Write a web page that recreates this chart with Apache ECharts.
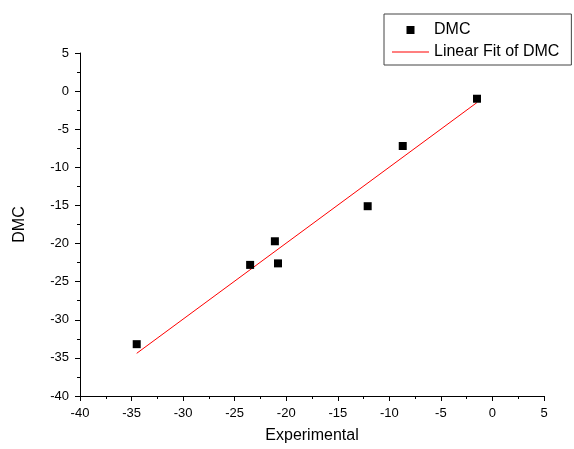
<!DOCTYPE html>
<html>
<head>
<meta charset="utf-8">
<script src="https://cdn.jsdelivr.net/npm/echarts@6/dist/echarts.min.js"></script>
<style>
html,body{margin:0;padding:0;background:#fff;}
#chart{width:574px;height:449px;}
</style>
</head>
<body>
<div id="chart"></div>
<script>
const experimental = [-34.5, -23.5, -21.1, -20.8, -12.1, -8.7, -1.5];
const dmc = [-33.2, -22.8, -19.7, -22.6, -15.1, -7.2, -1.0];
const fitX = [-34.5, -1.5];
const fitY = [-34.4, -1.5];
const xTicks = { min: -40, max: 5, interval: 5 };
const yTicks = { min: -40, max: 5, interval: 5 };

const FONT = 'Liberation Sans, Arial, sans-serif';
const chart = echarts.init(document.getElementById('chart'), null, { renderer: 'canvas' });

function axisCommon(t) {
  return {
    type: 'value',
    min: t.min, max: t.max, interval: t.interval,
    splitLine: { show: false },
    axisLine: { show: true, onZero: false, lineStyle: { color: '#000', width: 1 } },
    axisTick: { show: true, inside: false, length: 5, lineStyle: { color: '#000', width: 1 } },
    minorTick: { show: true, splitNumber: 2, length: 3, lineStyle: { color: '#000', width: 1 } },
    minorSplitLine: { show: false },
    axisLabel: { color: '#000', fontSize: 13, fontFamily: FONT, margin: 11 },
    nameTextStyle: { color: '#000', fontSize: 16, fontFamily: FONT },
    nameLocation: 'middle'
  };
}

const option = {
  animation: false,
  backgroundColor: '#fff',
  grid: { left: 80, right: 30, top: 53, bottom: 53 },
  xAxis: Object.assign(axisCommon(xTicks), { name: 'Experimental', nameGap: 32 }),
  yAxis: Object.assign(axisCommon(yTicks), { name: 'DMC', nameGap: 52 }),
  legend: {
    left: 384, top: 14,
    orient: 'vertical',
    itemWidth: 37, itemHeight: 8, itemGap: 6,
    padding: [8, 12, 5, 8],
    borderColor: '#444', borderWidth: 1,
    textStyle: { color: '#000', fontSize: 16, fontFamily: FONT },
    data: [
      { name: 'DMC', icon: 'path://M0,0L8,0L8,8L0,8Z', itemStyle: { color: '#000', opacity: 1 } },
      { name: 'Linear Fit of DMC', icon: 'path://M0,0L37,0L37,1L0,1Z', itemStyle: { color: '#ff0000' } }
    ]
  },
  series: [
    {
      name: 'DMC', type: 'scatter',
      symbol: 'rect', symbolSize: 8,
      itemStyle: { color: '#000', opacity: 1 },
      data: experimental.map((x, i) => [x, dmc[i]]),
      z: 3
    },
    {
      name: 'Linear Fit of DMC', type: 'line',
      symbol: 'none',
      lineStyle: { color: '#ff0000', width: 1 },
      itemStyle: { color: '#ff0000' },
      data: fitX.map((x, i) => [x, fitY[i]]),
      z: 2
    }
  ]
};
chart.setOption(option);
</script>
</body>
</html>
